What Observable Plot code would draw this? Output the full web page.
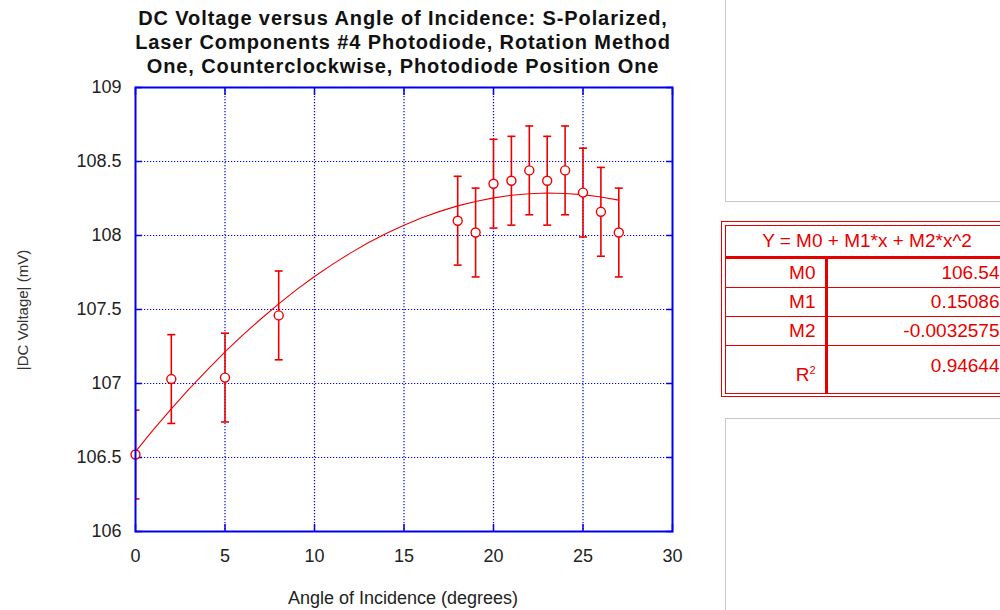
<!DOCTYPE html>
<html>
<head>
<meta charset="utf-8">
<script src="https://cdn.jsdelivr.net/npm/d3@7"></script>
<script src="https://cdn.jsdelivr.net/npm/@observablehq/plot@0.6"></script>
<style>
  html, body { margin: 0; padding: 0; background: #fff; }
  body { width: 1000px; height: 610px; overflow: hidden; position: relative; font-family: "Liberation Sans", Arial, sans-serif; }
  #chart { position: absolute; left: 0; top: 0; }
  .title { position: absolute; left: 53px; top: 6px; width: 700px; text-align: center; font-weight: bold; font-size: 20px; letter-spacing: 0.9px; line-height: 24px; color: #111; }
  .ylab { position: absolute; left: 22px; top: 310px; transform: translate(-50%, -50%) rotate(-90deg); white-space: nowrap; font-size: 15px; color: #333; }
  .xlab { position: absolute; left: 403px; top: 598px; transform: translate(-50%, -50%); white-space: nowrap; font-size: 18px; color: #222; }
  .panel { position: absolute; left: 725px; width: 300px; border: 1.5px solid #c8c8c8; box-sizing: border-box; }
  #fitbox { position: absolute; left: 721px; top: 221px; width: 300px; border: 1.5px solid #e80000; padding: 2.5px; box-sizing: border-box; }
  #fitbox table { border-collapse: collapse; width: 100%; border: 1.5px solid #e80000; color: #e80000; font-size: 19px; }
  #fitbox td { border: 1.5px solid #e80000; padding: 0 4px; line-height: 22px; }
  #fitbox td.hdr { text-align: center; height: 30px; border-bottom: 3px solid #e80000; padding-left: 0; padding-right: 8px; }
  #fitbox td.lab { width: 86px; text-align: right; border-right: 3px solid #e80000; padding-right: 9px; }
  #fitbox td.val { text-align: right; padding-right: 17px; }
  #fitbox tr.r td { height: 28px; }
  #fitbox tr.rsq td { height: 38px; }
</style>
</head>
<body>
<div class="panel" style="top:-2px; height:204px;"></div>
<div class="panel" style="top:418px; height:200px;"></div>
<div id="chart"></div>
<div class="title">DC Voltage versus Angle of Incidence: S-Polarized,<br>Laser Components #4 Photodiode, Rotation Method<br>One, Counterclockwise, Photodiode Position One</div>
<div class="ylab">|DC Voltage| (mV)</div>
<div class="xlab">Angle of Incidence (degrees)</div>
<div id="fitbox"></div>
<script>
// Measured data
const angles   = [0, 2, 5, 8, 18, 19, 20, 21, 22, 23, 24, 25, 26, 27];
const voltages = [106.52, 107.03, 107.04, 107.46, 108.10, 108.02, 108.35, 108.37, 108.44, 108.37, 108.44, 108.29, 108.16, 108.02];
const errors   = [0.3, 0.3, 0.3, 0.3, 0.3, 0.3, 0.3, 0.3, 0.3, 0.3, 0.3, 0.3, 0.3, 0.3];

// Quadratic fit curve
const fitX = [0, 1, 2, 3, 4, 5, 6, 7, 8, 9, 10, 11, 12, 13, 14, 15, 16, 17, 18, 19, 20, 21, 22, 23, 24, 25, 26, 27];
const fitY = [106.540, 106.688, 106.829, 106.963, 107.091, 107.213, 107.328, 107.436, 107.538, 107.634, 107.723, 107.805, 107.881, 107.951, 108.014, 108.070, 108.120, 108.163, 108.200, 108.230, 108.254, 108.272, 108.282, 108.287, 108.284, 108.276, 108.260, 108.239];

// Fit table
const fitEquation = "Y = M0 + M1*x + M2*x^2";
const paramNames  = ["M0", "M1", "M2"];
const paramValues = ["106.54", "0.15086", "-0.0032575"];
const rSquared    = "0.94644";

// Axes
const xTicks = [0, 5, 10, 15, 20, 25, 30];
const yTicks = [106, 106.5, 107, 107.5, 108, 108.5, 109];

const points = angles.map((a, i) => ({x: a, y: voltages[i], lo: voltages[i] - errors[i], hi: voltages[i] + errors[i]}));
const curve = fitX.map((x, i) => ({x, y: fitY[i]}));

const RED = "#ee0000";
const BLUE = "#0000ee";
const capSymbol = { draw(ctx, size) { const r = Math.sqrt(size / Math.PI); ctx.moveTo(-r, 0); ctx.lineTo(r, 0); } };

const chart = Plot.plot({
  width: 700,
  height: 610,
  marginLeft: 135,
  marginRight: 28,
  marginTop: 87,
  marginBottom: 79,
  style: { fontFamily: "Liberation Sans, Arial, sans-serif", fontSize: "18px", color: "#222", background: "transparent" },
  x: { domain: [0, 30], ticks: xTicks, label: null },
  y: { domain: [106, 109], ticks: yTicks, label: null },
  marks: [
    Plot.gridX(xTicks.slice(1, -1), { stroke: BLUE, strokeOpacity: 1, strokeWidth: 1.2, strokeDasharray: "1.2,1.8" }),
    Plot.gridY(yTicks.slice(1, -1), { stroke: BLUE, strokeOpacity: 1, strokeWidth: 1.2, strokeDasharray: "1.2,1.8" }),
    Plot.axisX(xTicks, { anchor: "bottom", tickSize: 0, tickPadding: 18, tickFormat: d => String(d), fill: "#222", fontSize: 18, label: null }),
    Plot.axisY(yTicks, { anchor: "left", tickSize: 0, tickPadding: 14, tickFormat: d => String(d), fill: "#222", fontSize: 18, label: null }),
    Plot.axisX(xTicks, { anchor: "bottom", tickSize: -7, stroke: BLUE, strokeWidth: 1.5, fill: "none", label: null }),
    Plot.axisX(xTicks, { anchor: "top", tickSize: -7, stroke: BLUE, strokeWidth: 1.5, fill: "none", label: null }),
    Plot.axisY(yTicks, { anchor: "left", tickSize: -7, stroke: BLUE, strokeWidth: 1.5, fill: "none", label: null }),
    Plot.axisY(yTicks, { anchor: "right", tickSize: -7, stroke: BLUE, strokeWidth: 1.5, fill: "none", label: null }),
    Plot.line(curve, { x: "x", y: "y", stroke: RED, strokeWidth: 1.1, curve: "linear" }),
    Plot.ruleX(points, { x: "x", y1: "lo", y2: "hi", stroke: RED, strokeWidth: 1.6, clip: true }),
    Plot.dot(points, { x: "x", y: "hi", symbol: capSymbol, r: 4, stroke: RED, strokeWidth: 1.6, clip: true }),
    Plot.dot(points, { x: "x", y: "lo", symbol: capSymbol, r: 4, stroke: RED, strokeWidth: 1.6, clip: true }),
    Plot.dot(points, { x: "x", y: "y", r: 4.5, stroke: RED, fill: "white", strokeWidth: 1.4 }),
    Plot.frame({ stroke: BLUE, strokeWidth: 2 })
  ]
});
document.getElementById("chart").appendChild(chart);

// Build fit table
let html = `<table><tr><td class="hdr" colspan="2">${fitEquation}</td></tr>`;
paramNames.forEach((n, i) => { html += `<tr class="r"><td class="lab">${n}</td><td class="val">${paramValues[i]}</td></tr>`; });
html += `<tr class="rsq"><td class="lab" style="vertical-align:bottom; padding-bottom:6px;">R<sup style="font-size:11px">2</sup></td><td class="val" style="vertical-align:top; padding-top:9px;">${rSquared}</td></tr></table>`;
document.getElementById("fitbox").innerHTML = html;
</script>
</body>
</html>
